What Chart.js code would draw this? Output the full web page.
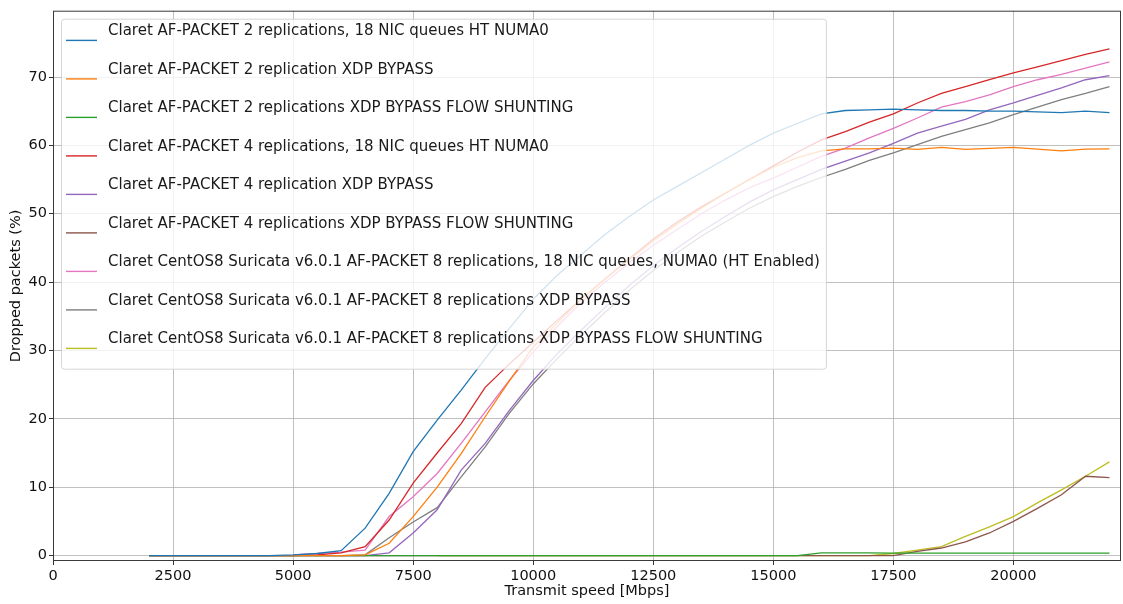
<!DOCTYPE html>
<html>
<head>
<meta charset="utf-8">
<script src="https://cdn.jsdelivr.net/npm/chart.js@4.4.0/dist/chart.umd.min.js"></script>
<style>
  html, body { margin: 0; padding: 0; background: #fff; }
  canvas { display: block; }
</style>
</head>
<body>
<canvas id="chart" width="1123" height="604"></canvas>
<script>
// transmit speed (Mbps), one sample every 500
const speeds = [2000, 2500, 3000, 3500, 4000, 4500, 5000, 5500, 6000, 6500,
  7000, 7500, 8000, 8500, 9000, 9500, 10000, 10500, 11000, 11500,
  12000, 12500, 13000, 13500, 14000, 14500, 15000, 15500, 16000, 16500,
  17000, 17500, 18000, 18500, 19000, 19500, 20000, 20500, 21000, 21500, 22000];

const xTicks = [0, 2500, 5000, 7500, 10000, 12500, 15000, 17500, 20000];
const yTicks = [0, 10, 20, 30, 40, 50, 60, 70];

const labels = [
  'Claret AF-PACKET 2 replications, 18 NIC queues HT NUMA0',
  'Claret AF-PACKET 2 replication XDP BYPASS',
  'Claret AF-PACKET 2 replications XDP BYPASS FLOW SHUNTING',
  'Claret AF-PACKET 4 replications, 18 NIC queues HT NUMA0',
  'Claret AF-PACKET 4 replication XDP BYPASS',
  'Claret AF-PACKET 4 replications XDP BYPASS FLOW SHUNTING',
  'Claret CentOS8 Suricata v6.0.1 AF-PACKET 8 replications, 18 NIC queues, NUMA0 (HT Enabled)',
  'Claret CentOS8 Suricata v6.0.1 AF-PACKET 8 replications XDP BYPASS',
  'Claret CentOS8 Suricata v6.0.1 AF-PACKET 8 replications XDP BYPASS FLOW SHUNTING'
];

const colors = ['#1f77b4', '#ff7f0e', '#2ca02c', '#d62728', '#9467bd',
  '#8c564b', '#e377c2', '#7f7f7f', '#bcbd22'];

const af2Numa = [0, 0, 0, 0, 0, 0, 0.1, 0.3, 0.7, 4.0,
  9.1, 15.2, 19.8, 24.2, 28.8, 33.2, 37.5, 41.0, 44.0, 47.0,
  49.6, 52.0, 54.0, 56.0, 58.0, 60.0, 61.8, 63.2, 64.6, 65.1,
  65.2, 65.3, 65.2, 65.1, 65.1, 65.0, 65.0, 64.9, 64.8, 65.0, 64.8];
const af2Bypass = [0, 0, 0, 0, 0, 0, 0, 0, 0, 0.1,
  1.8, 5.7, 10.0, 14.9, 20.3, 25.5, 30.5, 34.0, 37.5, 40.5,
  43.3, 46.0, 48.5, 50.8, 53.0, 55.0, 56.8, 58.2, 59.2, 59.5,
  59.5, 59.6, 59.4, 59.7, 59.4, 59.55, 59.7, 59.45, 59.2, 59.45, 59.5];
const af2Shunt = [0, 0, 0, 0, 0, 0, 0, 0, 0, 0,
  0, 0, 0, 0, 0, 0, 0, 0, 0, 0,
  0, 0, 0, 0, 0, 0, 0, 0, 0.4, 0.4,
  0.4, 0.35, 0.35, 0.35, 0.35, 0.35, 0.35, 0.35, 0.35, 0.35, 0.35];
const af4Numa = [0, 0, 0, 0, 0, 0, 0, 0.1, 0.4, 1.3,
  5.2, 10.6, 15.0, 19.3, 24.6, 28.0, 31.2, 34.4, 37.5, 40.5,
  43.4, 46.3, 48.8, 51.0, 53.0, 55.0, 57.0, 59.0, 60.8, 62.0,
  63.4, 64.6, 66.2, 67.6, 68.6, 69.6, 70.6, 71.5, 72.4, 73.3, 74.1];
const af4Bypass = [0, 0, 0, 0, 0, 0, 0, 0, 0, 0,
  0.4, 3.3, 6.7, 12.5, 16.4, 21.2, 25.6, 29.5, 33.0, 36.3,
  39.5, 42.4, 45.0, 47.4, 49.6, 51.7, 53.5, 55.0, 56.5, 57.7,
  58.9, 60.3, 61.8, 62.8, 63.8, 65.2, 66.2, 67.3, 68.4, 69.6, 70.2];
const af4Shunt = [0, 0, 0, 0, 0, 0, 0, 0, 0, 0,
  0, 0, 0, 0, 0, 0, 0, 0, 0, 0,
  0, 0, 0, 0, 0, 0, 0, 0, 0, 0,
  0, 0, 0.6, 1.1, 2.0, 3.3, 5.0, 6.9, 8.9, 11.6, 11.4];
const c8Numa = [null, null, null, null, null, null, 0.1, 0.3, 0.5, 0.8,
  5.7, 8.6, 12.0, 16.4, 21.0, 25.6, 29.8, 33.5, 37.0, 40.0,
  42.8, 45.4, 47.7, 50.0, 52.0, 53.8, 55.2, 56.8, 58.4, 59.6,
  61.1, 62.5, 64.0, 65.6, 66.4, 67.4, 68.6, 69.6, 70.4, 71.3, 72.2];
const c8Bypass = [null, null, null, null, null, null, null, null, 0, 0.1,
  2.6, 4.9, 7.0, 11.5, 15.9, 20.8, 25.1, 28.8, 32.3, 35.6,
  38.8, 41.7, 44.3, 46.7, 48.8, 50.8, 52.5, 54.0, 55.3, 56.5,
  57.8, 58.9, 60.1, 61.3, 62.3, 63.3, 64.5, 65.6, 66.7, 67.6, 68.6];
const c8Shunt = [null, null, null, null, null, null, null, null, null, null,
  null, null, 0, 0, 0, 0, 0, 0, 0, 0,
  0, 0, 0, 0, 0, 0, 0, 0, 0, 0,
  0, 0.3, 0.8, 1.3, 2.8, 4.2, 5.7, 7.7, 9.6, 11.6, 13.7];

const series = [af2Numa, af2Bypass, af2Shunt, af4Numa, af4Bypass, af4Shunt, c8Numa, c8Bypass, c8Shunt];

const FONT = "'DejaVu Sans', sans-serif";

// matplotlib-ish frame around the plot
const frame = {
  id: 'frame',
  afterDatasetsDraw(chart) {
    const { ctx, chartArea: a } = chart;
    ctx.save();
    ctx.strokeStyle = '#3a3a3a';
    ctx.lineWidth = 1;
    ctx.strokeRect(a.left + 0.5, a.top + 0.5, a.right - a.left - 1, a.bottom - a.top - 1);
    ctx.restore();
  }
};

// legend box drawn inside the plot, upper left
const innerLegend = {
  id: 'innerLegend',
  afterDraw(chart) {
    const { ctx, chartArea: a } = chart;
    const sets = chart.data.datasets;
    ctx.save();
    ctx.font = '15px ' + FONT;
    let maxW = 0;
    sets.forEach(d => { maxW = Math.max(maxW, ctx.measureText(d.label).width); });
    const bx = a.left + 8, by = a.top + 8;
    const textX = bx + 47;
    const bw = textX - bx + maxW + 6;
    const bh = 350;
    ctx.beginPath();
    ctx.roundRect(bx + 0.5, by + 0.5, bw, bh, 3);
    ctx.fillStyle = 'rgba(255,255,255,0.8)';
    ctx.fill();
    ctx.strokeStyle = 'rgba(204,204,204,0.8)';
    ctx.lineWidth = 1;
    ctx.stroke();
    sets.forEach((d, i) => {
      const ly = by + 21.7 + 38.5 * i;
      ctx.beginPath();
      ctx.moveTo(bx + 5, ly);
      ctx.lineTo(bx + 36, ly);
      ctx.strokeStyle = d.borderColor;
      ctx.lineWidth = 1.4;
      ctx.stroke();
      ctx.fillStyle = '#1a1a1a';
      ctx.textBaseline = 'middle';
      ctx.fillText(d.label, textX, ly - 9);
    });
    ctx.restore();
  }
};

new Chart(document.getElementById('chart'), {
  type: 'line',
  data: {
    labels: speeds,
    datasets: series.map((s, i) => ({
      label: labels[i],
      data: s,
      borderColor: colors[i],
      backgroundColor: colors[i],
      borderWidth: 1.3,
      pointRadius: 0,
      tension: 0,
      spanGaps: false
    }))
  },
  options: {
    responsive: false,
    animation: false,
    layout: { padding: { top: 9, right: 2, left: 0, bottom: 0 } },
    plugins: { legend: { display: false }, tooltip: { enabled: false } },
    scales: {
      x: {
        type: 'linear',
        min: 0,
        max: 22240,
        afterFit: s => { s.height = 43; },
        afterBuildTicks: s => { s.ticks = xTicks.map(v => ({ value: v })); },
        grid: { color: 'rgba(176,176,176,0.8)', lineWidth: 1, tickLength: 4, tickColor: '#333' },
        border: { display: false },
        ticks: { color: '#111', font: { family: FONT, size: 14.5 }, padding: 3, maxRotation: 0, callback: v => String(v) },
        title: { display: true, text: 'Transmit speed [Mbps]', color: '#111', font: { family: FONT, size: 14.5 }, padding: { top: 0, bottom: 4 } }
      },
      y: {
        min: -0.8,
        max: 79.7,
        afterFit: s => { s.width = 53; },
        afterBuildTicks: s => { s.ticks = yTicks.map(v => ({ value: v })); },
        grid: { color: 'rgba(176,176,176,0.8)', lineWidth: 1, tickLength: 4, tickColor: '#333' },
        border: { display: false },
        ticks: { color: '#111', font: { family: FONT, size: 14.5 }, padding: 2, callback: v => String(v) },
        title: { display: true, text: 'Dropped packets (%)', color: '#111', font: { family: FONT, size: 14.5 }, padding: { top: 8, bottom: 0 } }
      }
    }
  },
  plugins: [frame, innerLegend]
});
</script>
</body>
</html>
